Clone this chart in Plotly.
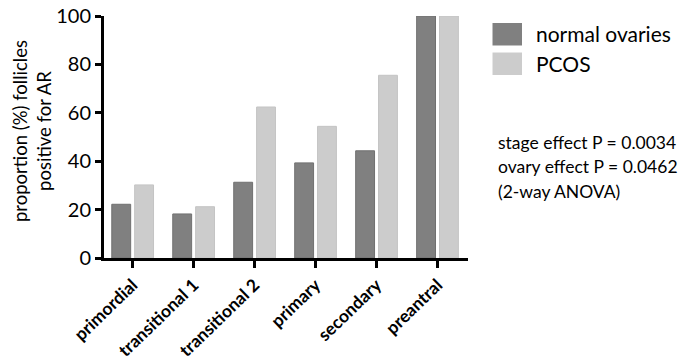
import plotly.graph_objects as go

stages = ["primordial", "transitional 1", "transitional 2", "primary", "secondary", "preantral"]
normal_ovaries = [22.2, 18.2, 31.3, 39.3, 44.3, 100]
pcos = [30.2, 21.2, 62.4, 54.4, 75.5, 100]
y_ticks = [0, 20, 40, 60, 80, 100]
series_names = ["normal ovaries", "PCOS"]
stats_lines = ["stage effect P = 0.0034", "ovary effect P = 0.0462", "(2-way ANOVA)"]
y_title = "proportion (%) follicles<br>positive for AR"

FONT = "Lato, Carlito, 'Liberation Sans', sans-serif"
C_NORMAL = "#808080"
C_PCOS = "#cccccc"

W, H = 686, 362
L, R, T, B = 104, 218, 16, 104
PW, PH = W - L - R, H - T - B


def px(x):
    return (x - L) / PW


def py(y):
    return 1 - (y - T) / PH


fig = go.Figure()
fig.add_trace(go.Bar(x=stages, y=normal_ovaries, name=series_names[0],
                     marker=dict(color=C_NORMAL, line=dict(color="#707070", width=1)),
                     showlegend=False))
fig.add_trace(go.Bar(x=stages, y=pcos, name=series_names[1],
                     marker=dict(color=C_PCOS, line=dict(color="#c4c4c4", width=1)),
                     showlegend=False))

fig.update_layout(
    width=W, height=H,
    margin=dict(l=L, r=R, t=T, b=B),
    paper_bgcolor="white", plot_bgcolor="white",
    barmode="group", bargap=0.25, bargroupgap=0.175,
    font=dict(family=FONT, color="black"),
)
fig.update_xaxes(
    type="category", range=[-0.47, 5.5], automargin=False,
    showline=True, linecolor="black", linewidth=3,
    ticks="outside", ticklen=7, tickwidth=3, tickcolor="black",
    tickangle=-44, tickfont=dict(size=17.5, family=FONT, weight="bold"),
    showgrid=False, zeroline=False,
)
fig.update_yaxes(
    range=[0, 100], tickvals=y_ticks, automargin=False,
    showline=True, linecolor="black", linewidth=3,
    ticks="outside", ticklen=6, tickwidth=3, tickcolor="black",
    tickfont=dict(size=20, family=FONT),
    showgrid=False, zeroline=False,
)

# y-axis title as annotation (positioned like the reference)
fig.add_annotation(xref="paper", yref="paper", x=px(32), y=py(131),
                   text=y_title, textangle=-90, showarrow=False,
                   xanchor="center", yanchor="middle",
                   font=dict(size=18.5, family=FONT))

# custom legend with large swatches
legend_colors = [C_NORMAL, C_PCOS]
for i, (name, col) in enumerate(zip(series_names, legend_colors)):
    y0 = 23 + i * 29.5
    fig.add_shape(type="rect", xref="paper", yref="paper",
                  x0=px(492.5), x1=px(522),
                  y0=py(y0 + 22.5), y1=py(y0),
                  fillcolor=col, line=dict(width=0))
    fig.add_annotation(xref="paper", yref="paper",
                       x=px(534), y=py(y0 + 11),
                       text=name, showarrow=False, xanchor="left", yanchor="middle",
                       font=dict(size=21, family=FONT))

for i, line in enumerate(stats_lines):
    fig.add_annotation(xref="paper", yref="paper",
                       x=px(496), y=py(142.5 + i * 24.3),
                       text=line, showarrow=False, align="left",
                       xanchor="left", yanchor="middle",
                       font=dict(size=17.5, family=FONT))

fig.write_html("out.html", config={"displayModeBar": False},
               post_script="document.body.style.margin='0';document.body.style.overflow='hidden';")
